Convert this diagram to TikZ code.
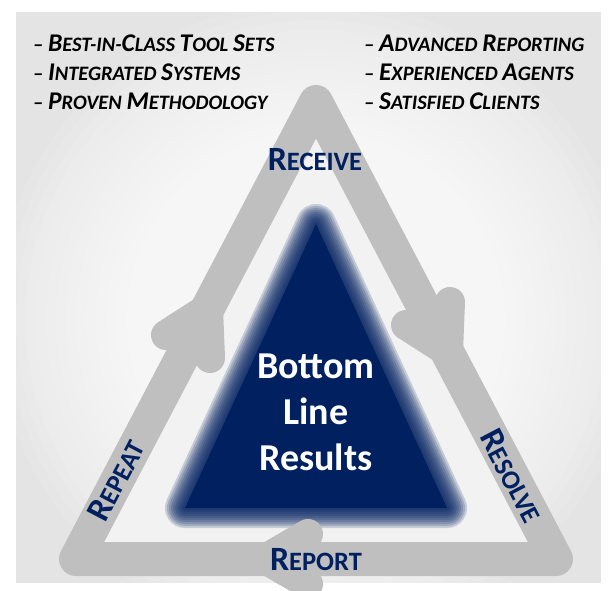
\documentclass[tikz,border=0pt]{standalone}
\usepackage{fontspec}
\setmainfont{Carlito}
\definecolor{navy}{HTML}{002060}
\definecolor{band}{HTML}{BFBFBF}
\definecolor{innerfill}{HTML}{F2F2F2}
\definecolor{bggray}{HTML}{E4E4E4}
\newcommand\Cap[1]{{\fontsize{\capsz}{\capsz}\selectfont #1}}
\tikzset{
  bandline/.style={draw=band, line width=34pt, line join=round},
  barb/.style={draw=band, line width=30pt, line cap=round, line join=round},
  bullettext/.style={font=\def\capsz{25.5}\fontsize{20.5}{24}\selectfont\bfseries\itshape, text=black, inner sep=0pt, anchor=base west},
  steplabel/.style={font=\def\capsz{34}\fontsize{26.5}{30}\selectfont\bfseries, text=navy, inner sep=0pt},
  centertext/.style={font=\fontsize{38}{46}\selectfont\bfseries, text=white, align=center, inner sep=0pt}
}
\begin{document}
\begin{tikzpicture}[x=1pt,y=-1pt]
\useasboundingbox (0,0) rectangle (610,590);
\fill[white] (0,0) rectangle (610,590);
% background panel with glow
\fill[bggray] (16,12) rectangle (601,583);
\begin{scope}
  \clip (16,12) rectangle (601,583);
  \foreach \r in {320,310,...,160}{
    \fill[white, opacity=0.1] (316,320) circle[radius=\r];
  }
\end{scope}
% triangle geometry
\coordinate (A) at (316,102);
\coordinate (R) at (556,559);
\coordinate (L) at (76,559);
\fill[innerfill] (A) -- (R) -- (L) -- cycle;
% blurred navy triangle
\coordinate (nA) at (316,224);
\coordinate (nR) at (447,508);
\coordinate (nL) at (185,508);
\fill[navy] (nA) -- (nR) -- (nL) -- cycle;
\foreach \w in {4,8,...,40}{
  \draw[navy, line width=\w pt, line join=round, opacity=0.18] (nA) -- (nR) -- (nL) -- cycle;
}
% gray band
\draw[bandline] (A) -- (R) -- (L) -- cycle;
% arrow heads
\coordinate (T1) at (208,308);
\coordinate (T1a) at (166,335);
\coordinate (T1b) at (210,358);
\draw[barb] (T1a) -- (T1) -- (T1b);
\coordinate (T2) at (448,352);
\coordinate (T2a) at (450,302);
\coordinate (T2b) at (406,325);
\draw[barb] (T2a) -- (T2) -- (T2b);
\coordinate (T3) at (265,559);
\coordinate (T3a) at (308,534);
\coordinate (T3b) at (308,584);
\draw[barb] (T3a) -- (T3) -- (T3b);
% labels
\node[steplabel] (receive) at (315,160) {\Cap{R}ECEIVE};
\node[steplabel] (report) at (316,560) {\Cap{R}EPORT};
\node[steplabel, rotate=-62.3] (resolve) at (512,476) {\Cap{R}ESOLVE};
\node[steplabel, rotate=62.3] (repeat) at (116,480) {\Cap{R}EPEAT};
\node[centertext] (center) at (316,412) {Bottom\\Line\\Results};
% bullet lists
\node[bullettext] (b1) at (33,51) {– \Cap{B}EST-IN-\Cap{C}LASS \Cap{T}OOL \Cap{S}ETS};
\node[bullettext] (b2) at (33,80) {– \Cap{I}NTEGRATED \Cap{S}YSTEMS};
\node[bullettext] (b3) at (33,109) {– \Cap{P}ROVEN \Cap{M}ETHODOLOGY};
\node[bullettext] (c1) at (364,51) {– \Cap{A}DVANCED \Cap{R}EPORTING};
\node[bullettext] (c2) at (364,80) {– \Cap{E}XPERIENCED \Cap{A}GENTS};
\node[bullettext] (c3) at (364,109) {– \Cap{S}ATISFIED \Cap{C}LIENTS};
\end{tikzpicture}
\end{document}
